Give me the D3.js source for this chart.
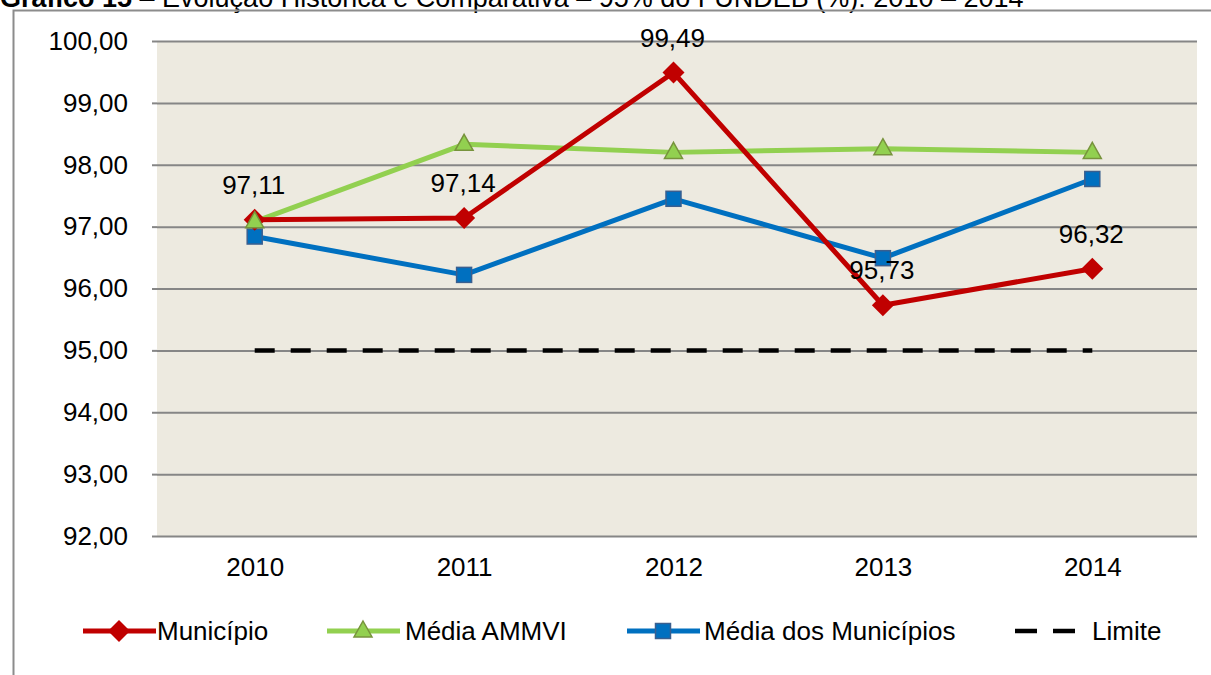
<!DOCTYPE html>
<html>
<head>
<meta charset="utf-8">
<script src="https://cdn.jsdelivr.net/npm/d3@7"></script>
<style>
body{margin:0;background:#fff;}
text{font-family:"Liberation Sans",Arial,sans-serif;}
</style>
</head>
<body>
<script>
let years = ["2010","2011","2012","2013","2014"];
let municipio = [97.11,97.14,99.49,95.73,96.32];
let mediaAmmvi = [97.08,98.33,98.20,98.26,98.20];
let mediaMunicipios = [96.84,96.22,97.45,96.49,97.77];
let limite = [95,95,95,95,95];
let yTicks = [92,93,94,95,96,97,98,99,100];
let seriesNames = ["Município","Média AMMVI","Média dos Municípios","Limite"];

let width = 1211, height = 675;
let margin = {left:157,right:14,top:41,bottom:139};
let fs = 26;

let svg = d3.select("body").append("svg").attr("width",width).attr("height",height);

// titulo cortado no topo
let title = svg.append("text").attr("x",0).attr("y",7).attr("font-size",27).attr("fill","#000");
title.append("tspan").attr("font-weight","bold").text("Gráfico 15");
title.append("tspan").text(" – Evolução Histórica e Comparativa – 95% do FUNDEB (%): 2010 – 2014");

// moldura
svg.append("path").attr("d","M13.5,675 V10.5 H1211").attr("fill","none").attr("stroke","#8c8c8c").attr("stroke-width",2);

let x = d3.scalePoint().domain(years).range([150,width-margin.right]).padding(0.5);
let y = d3.scaleLinear().domain([92,100]).range([height-margin.bottom,margin.top]);

svg.append("rect").attr("x",margin.left).attr("y",margin.top)
   .attr("width",width-margin.right-margin.left).attr("height",y(92)-y(100)).attr("fill","#EDEAE0");

let fmt = d => d3.format(".2f")(d).replace(".",",");

let yAxis = d3.axisLeft(y).tickValues(yTicks).tickSize(-(width-margin.right-margin.left)).tickPadding(29).tickFormat(fmt);
let gy = svg.append("g").attr("transform","translate("+margin.left+",0)").call(yAxis);
gy.select(".domain").remove();
gy.selectAll(".tick line").attr("stroke","#868686").attr("stroke-width",2);
gy.selectAll(".tick text").attr("font-size",fs).attr("fill","#000").attr("font-family","Liberation Sans, Arial, sans-serif");
gy.selectAll(".tick").append("line").attr("x1",-5).attr("x2",0).attr("stroke","#868686").attr("stroke-width",2);

let xAxis = d3.axisBottom(x).tickSize(0).tickPadding(22);
let gx = svg.append("g").attr("transform","translate(0,"+y(92)+")").call(xAxis);
gx.select(".domain").remove();
gx.selectAll(".tick text").attr("font-size",fs).attr("fill","#000").attr("font-family","Liberation Sans, Arial, sans-serif").attr("dy","0.71em");

let line = d3.line().x((d,i)=>x(years[i])).y(d=>y(d));

// limite
svg.append("path").attr("d",line(limite)).attr("fill","none").attr("stroke","#000")
   .attr("stroke-width",4.5).attr("stroke-dasharray","20,16");

svg.append("path").attr("d",line(mediaAmmvi)).attr("fill","none").attr("stroke","#92D050").attr("stroke-width",5).attr("stroke-linejoin","round");
svg.append("path").attr("d",line(mediaMunicipios)).attr("fill","none").attr("stroke","#0070C0").attr("stroke-width",5).attr("stroke-linejoin","round");
svg.append("path").attr("d",line(municipio)).attr("fill","none").attr("stroke","#C00000").attr("stroke-width",5).attr("stroke-linejoin","round");

function triMark(g,cx,cy){
  g.append("path").attr("d","M0,-9 L9,7 L-9,7 Z").attr("transform","translate("+cx+","+(cy-1)+")")
   .attr("fill","#92D050").attr("stroke","#77933C").attr("stroke-width",1.5);
}
function sqMark(g,cx,cy){
  g.append("rect").attr("x",cx-7.5).attr("y",cy-7.5).attr("width",15).attr("height",15)
   .attr("fill","#0070C0").attr("stroke","#3A5F8F").attr("stroke-width",1.5);
}
function diaMark(g,cx,cy){
  g.append("path").attr("d","M0,-11 L11,0 L0,11 L-11,0 Z").attr("transform","translate("+cx+","+cy+")")
   .attr("fill","#C00000");
}

let marks = svg.append("g");
mediaMunicipios.forEach((d,i)=>sqMark(marks,x(years[i]),y(d)));
municipio.forEach((d,i)=>diaMark(marks,x(years[i]),y(d)));
mediaAmmvi.forEach((d,i)=>triMark(marks,x(years[i]),y(d)));

// rotulos municipio
svg.append("g").selectAll("text").data(municipio).enter().append("text")
   .attr("x",(d,i)=>x(years[i])-1).attr("y",d=>y(d)-26)
   .attr("text-anchor","middle").attr("font-size",fs).attr("fill","#000")
   .text(d=>fmt(d));

// legenda
let legY = 631;
let leg = [
  {x:83, tx:157, color:"#C00000", mark:diaMark},
  {x:327, tx:405, color:"#92D050", mark:triMark},
  {x:627, tx:704, color:"#0070C0", mark:sqMark},
  {x:1013, tx:1092, color:"#000", mark:null}
];
leg.forEach((l,i)=>{
  let g = svg.append("g");
  if(l.mark){
    g.append("line").attr("x1",l.x).attr("x2",l.x+73).attr("y1",legY).attr("y2",legY)
     .attr("stroke",l.color).attr("stroke-width",5);
    l.mark(g,l.x+36,legY);
  } else {
    g.append("line").attr("x1",l.x+2).attr("x2",l.x+72).attr("y1",legY).attr("y2",legY)
     .attr("stroke",l.color).attr("stroke-width",4.5).attr("stroke-dasharray","22,16");
  }
  g.append("text").attr("x",l.tx).attr("y",legY+9).attr("font-size",fs).attr("fill","#000").text(seriesNames[i]);
});
</script>
</body>
</html>
